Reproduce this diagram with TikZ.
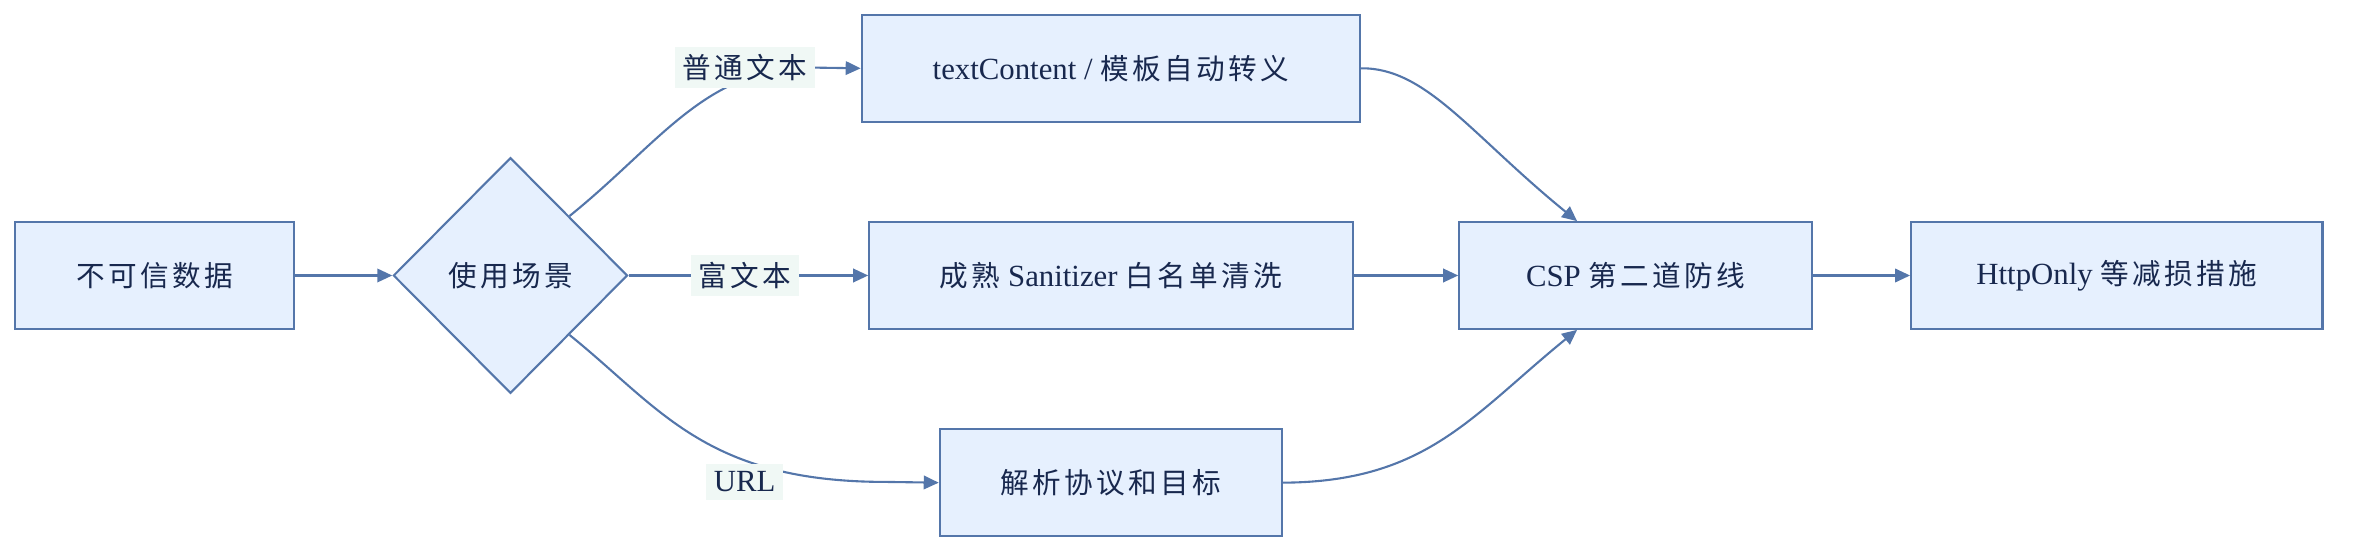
\documentclass[tikz,border=0pt]{standalone}
\usepackage{fontspec}
\setmainfont{Liberation Serif}
\newfontfamily\cjk[Scale=0.93,LetterSpace=12]{Noto Sans CJK SC}
\usetikzlibrary{shapes.geometric,arrows.meta}
\definecolor{boxfill}{RGB}{230,240,254}
\definecolor{boxline}{RGB}{84,118,170}
\definecolor{boxtext}{RGB}{24,40,78}
\definecolor{lblfill}{RGB}{240,248,245}
\begin{document}
\begin{tikzpicture}[x=1pt,y=-1pt,
    font=\fontsize{20.5}{24}\selectfont,
    box/.style={draw=boxline,fill=boxfill,line width=1.4pt,text=boxtext,
      minimum height=71pt,inner sep=0pt},
    choice/.style={diamond,draw=boxline,fill=boxfill,line width=1.4pt,text=boxtext,
      minimum width=156pt,minimum height=157pt,inner sep=0pt},
    lbl/.style={fill=lblfill,text=boxtext,inner sep=5pt},
    flow/.style={draw=boxline,line width=1.4pt,-{Triangle[length=10pt,width=9pt]}}]
  \useasboundingbox (0,0) rectangle (1568,370);
  % nodes
  \node[box,minimum width=186pt] (src) at (103,183.5) {\cjk 不可信数据};
  \node[choice] (use) at (340,183.5) {\cjk 使用场景};
  \node[box,minimum width=332pt] (plain) at (740,45.5) {textContent / {\cjk 模板自动转义}};
  \node[box,minimum width=322pt] (rich) at (740,183.5) {{\cjk 成熟} Sanitizer {\cjk 白名单清洗}};
  \node[box,minimum width=228pt] (url) at (740,321.5) {\cjk 解析协议和目标};
  \node[box,minimum width=235pt] (csp) at (1089.5,183.5) {CSP {\cjk 第二道防线}};
  \node[box,minimum width=274pt] (http) at (1410,183.5) {HttpOnly {\cjk 等减损措施}};
  % edges
  \draw[flow] (src) -- (use);
  \draw[flow] (use.north east) .. controls (440,95) and (470,45) .. (540,45) -- (plain.west);
  \draw[flow] (use) -- (rich);
  \draw[flow] (use.south east) .. controls (440,272) and (470,321) .. (590,321) -- (url.west);
  \draw[flow] (plain.east) .. controls (950,45) and (980,90) .. ([xshift=-39pt]csp.north);
  \draw[flow] (rich) -- (csp);
  \draw[flow] (url.east) .. controls (950,321) and (980,277) .. ([xshift=-39pt]csp.south);
  \draw[flow] (csp) -- (http);
  % labels
  \node[lbl] (l1) at (496,45) {\cjk 普通文本};
  \node[lbl] (l2) at (496,183.5) {\cjk 富文本};
  \node[lbl] (l3) at (496,321) {URL};
\end{tikzpicture}
\end{document}
